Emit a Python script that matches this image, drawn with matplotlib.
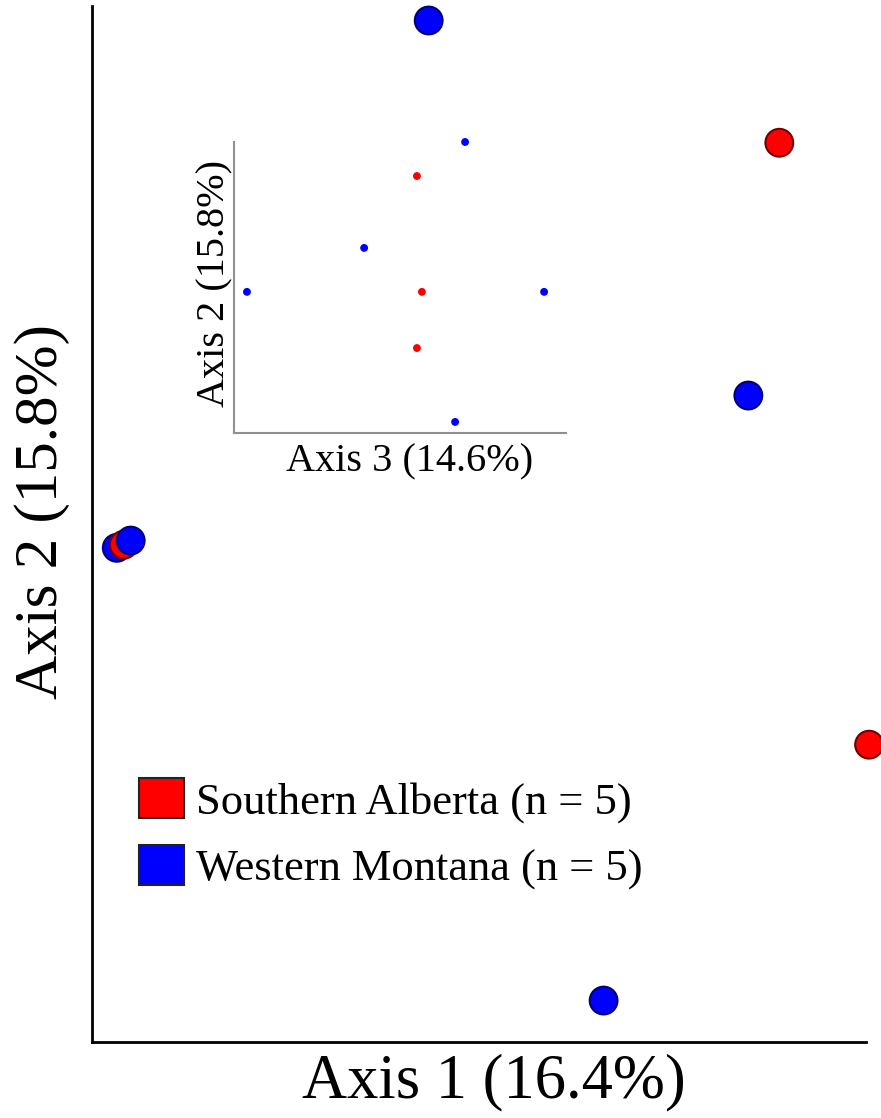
import matplotlib
matplotlib.use("Agg")
import matplotlib.pyplot as plt
from matplotlib.patches import Patch

plt.rcParams["font.family"] = ["Liberation Serif", "DejaVu Serif"]

# Hauptplot: Axis 1 vs Axis 2 (Reihenfolge = Zeichenreihenfolge)
achse1 = [43.5, 88.8, 84.8, 3.2, 4.1, 5.0, 100.4, 66.1]
achse2 = [98.6, 86.8, 62.4, 47.7, 48.0, 48.4, 28.7, 4.0]
gruppe = ["WM", "SA", "WM", "WM", "SA", "WM", "SA", "WM"]

# Inset: Axis 3 vs Axis 2
achse3_in = [69.6, 55.1, 39.2, 3.9, 56.6, 93.4, 55.1, 66.6]
achse2_in = [100.0, 88.3, 63.6, 48.5, 48.5, 48.5, 29.2, 3.8]
gruppe_in = ["WM", "SA", "WM", "WM", "SA", "WM", "SA", "WM"]

farben = {"SA": "#ff0000", "WM": "#0000ff"}
raender = {"SA": "#700000", "WM": "#000070"}
namen = {"SA": "Southern Alberta (n = 5)", "WM": "Western Montana (n = 5)"}

B, H = 881, 1118
fig = plt.figure(figsize=(B / 100, H / 100), dpi=100)

# Hauptachsen
ax = fig.add_axes([92 / B, (H - 1042) / H, (866 - 92) / B, (1042 - 6) / H])
ax.scatter(achse1, achse2, s=400, c=[farben[g] for g in gruppe],
           edgecolors=[raender[g] for g in gruppe], linewidths=1.5,
           clip_on=False, zorder=3)
ax.set_xlim(0, 100)
ax.set_ylim(0, 100)
ax.set_xticks([])
ax.set_yticks([])
for s in ["top", "right"]:
    ax.spines[s].set_visible(False)
for s in ["left", "bottom"]:
    ax.spines[s].set_linewidth(2)
ax.set_xlabel("Axis 1 (16.4%)", fontsize=45)
ax.set_ylabel("Axis 2 (15.8%)", fontsize=44)
ax.xaxis.set_label_coords((494 - 92) / (866 - 92), -(1082 - 1042) / (1042 - 6),
                          transform=ax.transAxes)
ax.xaxis.label.set_va("center")
ax.yaxis.set_label_coords(-(92 - 42) / (866 - 92), (1042 - 512) / (1042 - 6),
                          transform=ax.transAxes)
ax.yaxis.label.set_va("center")

# Legende
griffe = [Patch(facecolor=farben[k], edgecolor="#222222", linewidth=1.5, label=namen[k])
          for k in ["SA", "WM"]]
ax.legend(handles=griffe, loc="upper left", bbox_to_anchor=(108 / B, 1 - 747 / H),
          bbox_transform=fig.transFigure, frameon=False, fontsize=32,
          handlelength=1.0, handleheight=1.0, handletextpad=0.28, labelspacing=0.5,
          borderpad=0.2)

# Inset
ax2 = fig.add_axes([234 / B, (H - 433) / H, (566 - 234) / B, (433 - 142) / H])
ax2.scatter(achse3_in, achse2_in, s=32, c=[farben[g] for g in gruppe_in],
            edgecolors="none", clip_on=False, zorder=3)
ax2.set_xlim(0, 100)
ax2.set_ylim(0, 100)
ax2.set_xticks([])
ax2.set_yticks([])
ax2.patch.set_alpha(0)
for s in ["top", "right"]:
    ax2.spines[s].set_visible(False)
for s in ["left", "bottom"]:
    ax2.spines[s].set_linewidth(1.5)
    ax2.spines[s].set_color("#909090")
ax2.set_xlabel("Axis 3 (14.6%)", fontsize=29)
ax2.set_ylabel("Axis 2 (15.8%)", fontsize=29)
ax2.xaxis.set_label_coords((410 - 234) / (566 - 234), -(462 - 433) / (433 - 142),
                           transform=ax2.transAxes)
ax2.xaxis.label.set_va("center")
ax2.yaxis.set_label_coords(-(234 - 215) / (566 - 234), (433 - 283) / (433 - 142),
                           transform=ax2.transAxes)
ax2.yaxis.label.set_va("center")

fig.savefig("out.png", dpi=100)
